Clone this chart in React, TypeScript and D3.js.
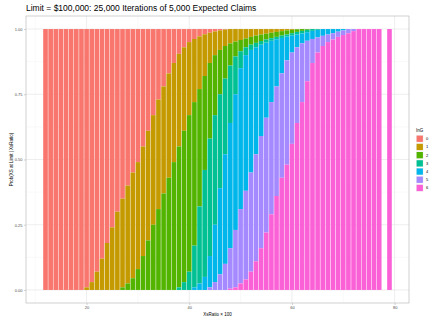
import React, { useEffect, useRef } from 'react';
import * as d3 from 'd3';

// XsRatio * 100 for each bar
const xsRatio = [
  12, 13, 14, 15, 16, 17, 18, 19,
  20, 21, 22, 23, 24, 25, 26, 27, 28, 29,
  30, 31, 32, 33, 34, 35, 36, 37, 38, 39,
  40, 41, 42, 43, 44, 45, 46, 47, 48, 49,
  50, 51, 52, 53, 54, 55, 56, 57, 58, 59,
  60, 61, 62, 63, 64, 65, 66, 67, 68, 69,
  70, 71, 72, 73, 74, 75, 76, 77,
  79,
];

// share of iterations with at least k claims at the limit (top edge of each band)
const atLeast1 = [
  0, 0, 0, 0, 0, 0, 0, 0,
  0.01, 0.03, 0.07, 0.12, 0.18, 0.24, 0.3, 0.35, 0.4, 0.45,
  0.49, 0.55, 0.61, 0.67, 0.73, 0.78, 0.83, 0.87, 0.905, 0.93,
  0.95, 0.962, 0.972, 0.98, 0.986, 0.991, 0.995, 0.998, 1, 1,
  1, 1, 1, 1, 1, 1, 1, 1, 1, 1,
  1, 1, 1, 1, 1, 1, 1, 1, 1, 1,
  1, 1, 1, 1, 1, 1, 1, 1,
  1,
];
const atLeast2 = [
  0, 0, 0, 0, 0, 0, 0, 0,
  0, 0, 0, 0, 0, 0, 0, 0.01, 0.025, 0.045,
  0.08, 0.13, 0.19, 0.25, 0.31, 0.37, 0.43, 0.49, 0.55, 0.61,
  0.67, 0.72, 0.77, 0.82, 0.87, 0.9, 0.92, 0.935, 0.945, 0.952,
  0.958, 0.964, 0.97, 0.975, 0.979, 0.982, 0.986, 0.989, 0.992, 0.995,
  0.997, 0.999, 1, 1, 1, 1, 1, 1, 1, 1,
  1, 1, 1, 1, 1, 1, 1, 1,
  1,
];
const atLeast3 = [
  0, 0, 0, 0, 0, 0, 0, 0,
  0, 0, 0, 0, 0, 0, 0, 0, 0, 0,
  0, 0, 0, 0, 0, 0, 0, 0, 0.01, 0.03,
  0.07, 0.17, 0.32, 0.46, 0.58, 0.67, 0.75, 0.81, 0.86, 0.895,
  0.915, 0.93, 0.94, 0.947, 0.954, 0.96, 0.965, 0.97, 0.975, 0.979,
  0.984, 0.989, 0.993, 0.997, 1, 1, 1, 1, 1, 1,
  1, 1, 1, 1, 1, 1, 1, 1,
  1,
];
const atLeast4 = [
  0, 0, 0, 0, 0, 0, 0, 0,
  0, 0, 0, 0, 0, 0, 0, 0, 0, 0,
  0, 0, 0, 0, 0, 0, 0, 0, 0, 0,
  0, 0.01, 0.025, 0.05, 0.13, 0.25, 0.39, 0.52, 0.64, 0.75,
  0.85, 0.9, 0.92, 0.93, 0.94, 0.948, 0.955, 0.961, 0.966, 0.971,
  0.975, 0.979, 0.983, 0.988, 0.993, 0.997, 1, 1, 1, 1,
  1, 1, 1, 1, 1, 1, 1, 1,
  1,
];
const atLeast5 = [
  0, 0, 0, 0, 0, 0, 0, 0,
  0, 0, 0, 0, 0, 0, 0, 0, 0, 0,
  0, 0, 0, 0, 0, 0, 0, 0, 0, 0,
  0, 0, 0, 0, 0.01, 0.03, 0.06, 0.1, 0.16, 0.23,
  0.31, 0.38, 0.45, 0.52, 0.59, 0.66, 0.72, 0.78, 0.83, 0.88,
  0.91, 0.93, 0.945, 0.955, 0.962, 0.968, 0.974, 0.979, 0.984, 0.99,
  0.995, 1, 1, 1, 1, 1, 1, 1,
  1,
];
const atLeast6 = [
  0, 0, 0, 0, 0, 0, 0, 0,
  0, 0, 0, 0, 0, 0, 0, 0, 0, 0,
  0, 0, 0, 0, 0, 0, 0, 0, 0, 0,
  0, 0, 0, 0, 0, 0, 0, 0, 0.005, 0.01,
  0.025, 0.04, 0.07, 0.11, 0.16, 0.22, 0.29, 0.36, 0.43, 0.48,
  0.56, 0.64, 0.72, 0.8, 0.87, 0.91, 0.935, 0.95, 0.96, 0.97,
  0.977, 0.984, 0.992, 1, 1, 1, 1, 1,
  1,
];

const categories = ['0', '1', '2', '3', '4', '5', '6'];
const colors = ['#F8766D', '#C49A00', '#53B400', '#00C094', '#00B6EB', '#A58AFF', '#FB61D7'];
const xTicks = [20, 40, 60, 80];
const yTicks = [0, 0.25, 0.5, 0.75, 1];

const title = 'Limit = $100,000: 25,000 Iterations of 5,000 Expected Claims';
const xTitle = 'XsRatio × 100';
const yTitle = 'Prob(XS at Limit | XsRatio)';
const legendTitle = 'InG';

export default function App() {
  const svgRef = useRef<SVGSVGElement>(null);

  useEffect(() => {
    if (!svgRef.current) return;
    const root = d3.select(svgRef.current);
    root.selectAll('*').remove();

    const panel = { left: 26, right: 409, top: 16, bottom: 303 };
    const font = 'Liberation Sans, Arial, sans-serif';

    const x = d3.scaleLinear().domain([8.2, 82.8]).range([panel.left, panel.right]);
    const y = d3.scaleLinear().domain([-0.05, 1.05]).range([panel.bottom, panel.top]);

    root.append('rect').attr('width', 430).attr('height', 320).attr('fill', '#fff');

    root
      .append('text')
      .attr('x', panel.left)
      .attr('y', 11)
      .attr('font-size', '8.5px')
      .attr('font-family', font)
      .attr('fill', '#000')
      .text(title);

    // Grid
    const grid = root.append('g');
    const minorY = [0.125, 0.375, 0.625, 0.875];
    const minorX = [10, 30, 50, 70];
    grid
      .selectAll('.gy-minor')
      .data(minorY)
      .enter()
      .append('line')
      .attr('x1', panel.left)
      .attr('x2', panel.right)
      .attr('y1', d => y(d))
      .attr('y2', d => y(d))
      .attr('stroke', '#f2f2f2')
      .attr('stroke-width', 0.5);
    grid
      .selectAll('.gx-minor')
      .data(minorX)
      .enter()
      .append('line')
      .attr('y1', panel.top)
      .attr('y2', panel.bottom)
      .attr('x1', d => x(d))
      .attr('x2', d => x(d))
      .attr('stroke', '#f2f2f2')
      .attr('stroke-width', 0.5);
    grid
      .selectAll('.gy')
      .data(yTicks)
      .enter()
      .append('line')
      .attr('x1', panel.left)
      .attr('x2', panel.right)
      .attr('y1', d => y(d))
      .attr('y2', d => y(d))
      .attr('stroke', '#e3e3e3')
      .attr('stroke-width', 0.6);
    grid
      .selectAll('.gx')
      .data(xTicks)
      .enter()
      .append('line')
      .attr('y1', panel.top)
      .attr('y2', panel.bottom)
      .attr('x1', d => x(d))
      .attr('x2', d => x(d))
      .attr('stroke', '#e3e3e3')
      .attr('stroke-width', 0.6);

    // Bars: each category band runs from the next "at least" edge up to its own
    const bounds = [atLeast1, atLeast2, atLeast3, atLeast4, atLeast5, atLeast6];
    const segments: { x: number; y0: number; y1: number; k: number }[] = [];
    xsRatio.forEach((xv, i) => {
      categories.forEach((_, k) => {
        const top = k === 0 ? 1 : bounds[k - 1][i];
        const bottom = k === categories.length - 1 ? 0 : bounds[k][i];
        if (top - bottom > 0) segments.push({ x: xv, y0: bottom, y1: top, k });
      });
    });

    const barW = 0.9;
    root
      .append('g')
      .selectAll('rect')
      .data(segments)
      .enter()
      .append('rect')
      .attr('x', d => x(d.x - barW / 2))
      .attr('width', x(barW) - x(0))
      .attr('y', d => y(d.y1))
      .attr('height', d => y(d.y0) - y(d.y1))
      .attr('fill', d => colors[d.k]);

    // Panel border
    root
      .append('rect')
      .attr('x', panel.left)
      .attr('y', panel.top)
      .attr('width', panel.right - panel.left)
      .attr('height', panel.bottom - panel.top)
      .attr('fill', 'none')
      .attr('stroke', '#b3b3b3')
      .attr('stroke-width', 0.6);

    // Axes
    const yAxis = root
      .append('g')
      .attr('transform', `translate(${panel.left},0)`)
      .call(d3.axisLeft(y).tickValues(yTicks).tickFormat(d3.format('.2f')).tickSize(2).tickPadding(1.5));
    const xAxis = root
      .append('g')
      .attr('transform', `translate(0,${panel.bottom})`)
      .call(d3.axisBottom(x).tickValues(xTicks).tickFormat(d3.format('d')).tickSize(2).tickPadding(1.5));
    [yAxis, xAxis].forEach(a => {
      a.select('.domain').remove();
      a.selectAll('.tick line').attr('stroke', '#b3b3b3').attr('stroke-width', 0.6);
      a.selectAll('.tick text')
        .attr('fill', '#4d4d4d')
        .attr('font-size', '4px')
        .attr('font-family', font);
    });

    root
      .append('text')
      .attr('x', (panel.left + panel.right) / 2)
      .attr('y', 316)
      .attr('text-anchor', 'middle')
      .attr('font-size', '4.5px')
      .attr('font-family', font)
      .attr('fill', '#000')
      .text(xTitle);

    root
      .append('text')
      .attr('transform', `translate(13,${(panel.top + panel.bottom) / 2}) rotate(-90)`)
      .attr('text-anchor', 'middle')
      .attr('font-size', '4.5px')
      .attr('font-family', font)
      .attr('fill', '#000')
      .text(yTitle);

    // Legend
    const legend = root.append('g').attr('transform', 'translate(416,128)');
    legend
      .append('text')
      .attr('x', 0)
      .attr('y', 4)
      .attr('font-size', '4.5px')
      .attr('font-family', font)
      .attr('fill', '#000')
      .text(legendTitle);
    const item = legend
      .selectAll('.item')
      .data(categories)
      .enter()
      .append('g')
      .attr('transform', (_, i) => `translate(0,${7 + i * 8.2})`);
    item
      .append('rect')
      .attr('width', 7.5)
      .attr('height', 7.5)
      .attr('fill', '#f2f2f2');
    item
      .append('rect')
      .attr('x', 0.6)
      .attr('y', 0.6)
      .attr('width', 6.3)
      .attr('height', 6.3)
      .attr('fill', (_, i) => colors[i]);
    item
      .append('text')
      .attr('x', 10)
      .attr('y', 5.3)
      .attr('font-size', '4px')
      .attr('font-family', font)
      .attr('fill', '#000')
      .text(d => d);
  }, []);

  return (
    <div style={{ position: 'fixed', left: 0, top: 0 }}>
      <svg ref={svgRef} width={430} height={320} style={{ display: 'block' }}></svg>
    </div>
  );
}
